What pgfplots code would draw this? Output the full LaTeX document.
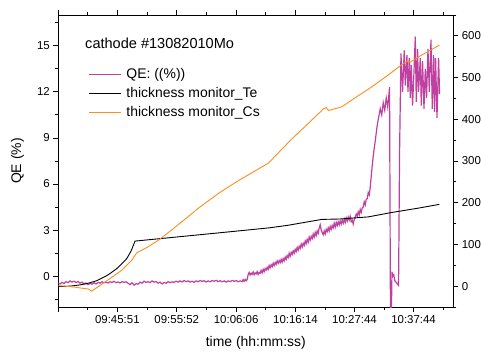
\documentclass[border=0pt]{standalone}
\usepackage{fontspec}
\setmainfont{Liberation Sans}
\usepackage{pgfplots}
\pgfplotsset{compat=1.18}
\definecolor{qe}{RGB}{192,64,160}
\definecolor{cs}{RGB}{255,140,30}
\begin{document}
\begin{tikzpicture}
\useasboundingbox (-58.3bp,-47bp) rectangle (422.7bp,307bp);
\pgfplotsset{
 common/.style={width=395bp,height=292bp,scale only axis, at={(0,0)}, anchor=south west,
   xmin=0.3,xmax=395, tick align=outside, major tick length=5bp, minor tick length=3bp,
   axis line style={line width=0.8bp}, tick style={line width=0.8bp, black},
   tick label style={font=\fontsize{11.5}{13}\selectfont},
   label style={font=\fontsize{14}{16}\selectfont},
   /pgf/number format/assume math mode=true},
}
\begin{axis}[common, ymin=-2, ymax=17, ytick={0,3,6,9,12,15},
  minor ytick={-1.5,1.5,4.5,7.5,10.5,13.5,16.5},
  xtick={0.3,59.3,118.7,178,237.3,296.3,355.3},
  xticklabels={,09:45:51,09:55:52,10:06:06,10:16:14,10:27:44,10:37:44},
  minor xtick={29.7,89.3,148.7,207.7,267,326,385.3},
  xtick pos=both, ytick pos=left,
  xlabel={time (hh:mm:ss)}, ylabel={QE (\%)},
  xlabel style={at={(axis description cs:0.5,-0.1233)}, anchor=center},
  ylabel style={at={(axis description cs:-0.1034,0.5)}, anchor=center}]
\addplot[qe, line width=1.2bp] coordinates {
(0.3,-0.45)(2,-0.5)(4,-0.4)(6,-0.47)(8,-0.35)(10,-0.42)(12,-0.3)(14,-0.38)(16,-0.32)(18,-0.4)(20,-0.34)(22,-0.45)(24,-0.38)(26,-0.5)(28,-0.44)(30,-0.55)(32,-0.46)(34,-0.52)(36,-0.42)(38,-0.5)(40,-0.4)(42,-0.45)(44,-0.36)(46,-0.42)(48,-0.38)(50,-0.44)(52,-0.36)(54,-0.4)(56,-0.33)(58,-0.42)(60,-0.37)(62,-0.43)(64,-0.35)(66,-0.4)(68,-0.36)(70,-0.45)(72,-0.55)(74,-0.42)(76,-0.58)(78,-0.48)(80,-0.52)(82,-0.38)(84,-0.45)(86,-0.32)(88,-0.4)(90,-0.35)(92,-0.42)(94,-0.3)(96,-0.38)(98,-0.34)(100,-0.45)(102,-0.38)(104,-0.5)(106,-0.4)(108,-0.46)(110,-0.35)(112,-0.42)(114,-0.36)(116,-0.4)(118,-0.32)(120,-0.38)(122,-0.3)(124,-0.37)(126,-0.28)(128,-0.35)(130,-0.3)(132,-0.38)(134,-0.32)(136,-0.4)(138,-0.3)(140,-0.36)(142,-0.27)(144,-0.34)(146,-0.29)(148,-0.37)(150,-0.3)(152,-0.36)(154,-0.28)(156,-0.33)(158,-0.26)(160,-0.35)(162,-0.29)(164,-0.36)(166,-0.3)(168,-0.38)(170,-0.3)(172,-0.35)(174,-0.27)(176,-0.33)(178,-0.28)(180,-0.36)(182,-0.3)
(184,-0.35)(185,-0.22)(186,-0.33)(187,-0.2)(188,-0.3)(189,-0.22)(190,0.1)(191,0.25)(192,0.08)(193,0.2)(194,0.12)(195,0.28)(196,0.1)(197,0.22)(198,0.15)(199,0.3)(200,0.12)(201,0.25)(202,0.2)(203,0.38)(204,0.22)(205,0.45)(206,0.3)(207,0.5)(208,0.4)(209,0.58)(210,0.45)(211,0.7)(212,0.55)(213,0.75)(214,0.62)(215,0.85)(216,0.7)(217,0.9)(218,0.78)(219,1.0)(220,0.85)(221,1.02)(222,0.88)(223,1.1)(224,0.92)(225,1.15)(226,1.0)(227,1.25)(228,1.1)(229,1.35)(230,1.22)(231,1.5)(232,1.3)(233,1.55)(234,1.42)(235,1.65)(236,1.5)(237,1.75)(238,1.6)(239,1.88)(240,1.7)(241,1.95)(242,1.82)(243,2.1)(244,1.9)(245,2.15)(246,2.0)(247,2.3)(248,2.12)(249,2.4)(250,2.22)(251,2.55)(252,2.35)(253,2.6)(254,2.45)(255,2.75)(256,2.55)(257,2.85)(258,2.65)(259,2.95)(260,2.8)(261,3.15)(262,3.35)(263,3.0)(264,2.85)(265,2.7)(266,2.95)(267,2.75)(268,3.05)(269,2.9)(270,3.15)(271,2.95)(272,3.25)(273,3.05)(274,3.3)(275,3.15)(276,3.45)(277,3.2)(278,3.5)(279,3.3)(280,3.55)(281,3.35)(282,3.6)(283,3.4)(284,3.65)(285,3.45)(286,3.72)(287,3.5)(288,3.8)(289,3.6)(290,3.85)(291,3.65)(292,3.9)(293,3.55)(294,3.65)(295,3.4)(296,3.7)(297,3.85)(298,4.05)(299,3.9)(300,4.2)(301,4.0)(302,4.35)(303,4.15)(304,4.45)(305,4.5)(306,4.85)(307,4.65)(308,5.0)(309,5.05)(310,5.45)(311,5.3)(312,5.8)
(313.7,7.0)(315.3,8.0)(317,8.8)(318.7,9.7)(320,10.2)(322,10.9)(323.5,10.5)(325,11.3)(326.5,10.8)(328,11.6)(329.5,11.0)(331.3,12.3)(332.2,-2.6)(333.2,-2.3)(333.7,0.3)(334.5,0.0)(335.5,0.1)(336.5,-0.3)(337.5,-0.35)(338.5,-0.45)(340.3,-0.6)(341.3,8)(342.7,14.5)
(344.3,12.0)(346,14.7)(347,12.4)(348.7,14.4)(349.7,12.0)(351,14.2)(352,11.6)(353,13.75)(354.3,11.1)(355.7,13.3)(357,15.6)(358,11.35)(359.3,14.8)(360.3,12.0)(362,14.2)(363,11.1)(364.3,14.0)(365.7,10.9)(367,13.5)(368.3,11.6)(369.7,14.8)(371,12.0)(372.7,15.4)(374,10.9)(375.3,14.4)(376.3,10.7)(377.3,14.2)(378.7,10.3)(380.3,14.2)(381.3,11.85)
};
\end{axis}
\begin{axis}[common, ymin=-50, ymax=650, axis y line*=right, axis x line=none,
  ytick={0,100,200,300,400,500,600}, minor ytick={-50,50,150,250,350,450,550,650},
  legend style={draw=none, fill=none, at={(axis description cs:0.0753,0.818)}, anchor=north west,
    font=\fontsize{14}{16}\selectfont, inner sep=0pt, row sep=6bp, column sep=5bp,
    nodes={inner sep=0pt, text height=10bp, text depth=3bp}},
  legend cell align=left,
  legend image code/.code={\draw[#1] (0bp,0bp) -- (32bp,0bp);}]
\addlegendimage{qe, line width=1.2bp}
\addlegendentry{QE: ((\%))}
\addplot[black, line width=0.9bp] coordinates {
(0.3,-1)(12,0)(22,3)(30.3,7)(38.7,13)(48.7,25)(53,32)(58.7,42)(63,52)(68.7,66)(73,84)(77,108)(178.7,132)(212,140)(230,146)(263.7,160)(282,161)(310,166)(332,176)(360,187)(381,196)
};
\addlegendentry{thickness monitor\_Te}
\addplot[cs, line width=0.9bp] coordinates {
(0.3,1)(12,-1)(17,-2.5)(30.3,-7)(33.7,-12)(47,10)(63.7,38)(73.7,62)(78.7,80)(88.7,92.5)(100.3,110)(115.3,138)(142,190)(162,225)(180.3,253)(210.3,295)(232,349)(248.7,387)(265.3,425)(268,428)(270.3,421)(283.7,430)(295.3,449)(313.7,478)(328.7,504)(345.3,534)(350,540)(352,537)(362,552)(381.3,578)
};
\addlegendentry{thickness monitor\_Cs}
\node[anchor=west, font=\fontsize{14.6}{17}\selectfont, inner sep=0pt] at (axis description cs:0.0677,0.904) {cathode \#13082010Mo};
\end{axis}
\end{tikzpicture}
\end{document}
